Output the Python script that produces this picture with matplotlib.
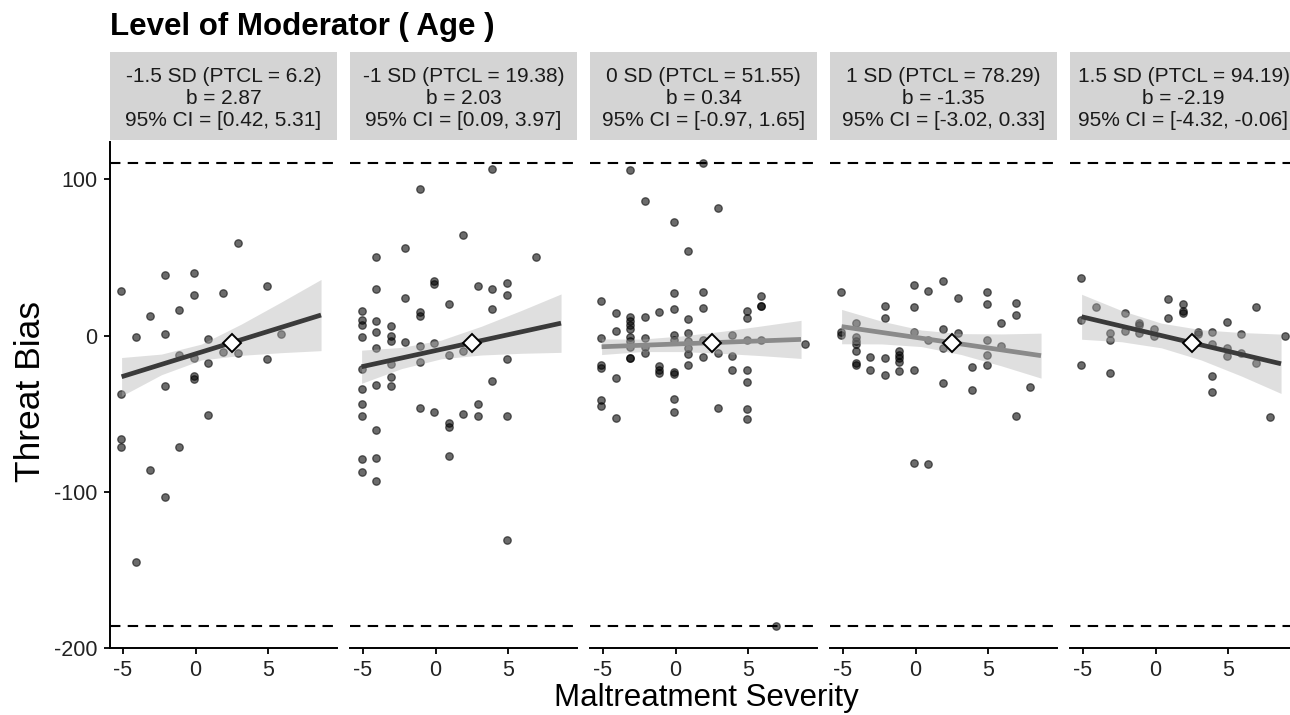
import matplotlib
matplotlib.use("Agg")
import matplotlib.pyplot as plt
import numpy as np

plt.rcParams['font.family'] = ['Liberation Sans', 'DejaVu Sans']
plt.rcParams['axes.unicode_minus'] = False

# ---------------- data ----------------
strip_labels = [
    "-1.5 SD (PTCL = 6.2)\nb = 2.87\n95% CI = [0.42, 5.31]",
    "-1 SD (PTCL = 19.38)\nb = 2.03\n95% CI = [0.09, 3.97]",
    "0 SD (PTCL = 51.55)\nb = 0.34\n95% CI = [-0.97, 1.65]",
    "1 SD (PTCL = 78.29)\nb = -1.35\n95% CI = [-3.02, 0.33]",
    "1.5 SD (PTCL = 94.19)\nb = -2.19\n95% CI = [-4.32, -0.06]",
]

p1_x = [-5.13, -5.13, -5.13, -5.13, -4.14, -4.14, -3.14, -3.14, -2.14, -2.14, -2.14, -2.14,
        -1.14, -1.14, -1.14, -0.11, -0.11, -0.11, -0.11, -0.11, 0.89, 0.89, 0.89,
        1.91, 1.91, 2.91, 2.91, 4.91, 4.91, 5.91]
p1_y = [28.6, -37.4, -66.2, -71.2, -1.0, -144.7, 12.6, -86.3, 38.9, 1.3, -32.5, -103.0,
        16.2, -12.2, -71.2, 40.0, 26.3, -14.5, -26.0, -27.8, -2.1, -17.5, -50.9,
        27.3, -10.7, 59.4, -11.3, 32.0, -15.2, 0.8]

p2_x = [3.9, -1.1, 1.9, -2.1, -4.1, 6.9, -0.1, -0.1, -4.1, 2.9, 3.9, 4.9, 4.9, -2.1, 0.9, 3.9,
        -5.1, -1.1, -1.1, -5.1, -5.1, -4.1, -3.1, -4.1, -5.1, -3.1, -3.1, -2.1, -1.1, -0.1,
        -4.1, 0.9, 1.9, -3.1, -1.1, 4.9, -5.1, -3.1, -4.1, -3.1, -5.1, 3.9, -5.1, -1.1,
        -0.1, 1.9, 2.9, 2.9, 4.9, -5.1, 0.9, 0.9, -4.1, -5.1, -4.1, 0.9, -5.1, -4.1, 4.9]
p2_y = [106.4, 93.6, 64.5, 56.0, 50.6, 50.2, 34.8, 33.1, 29.9, 31.8, 30.1, 34.0, 25.9, 24.4, 20.3, 17.1,
        15.6, 15.0, 12.8, 10.3, 7.0, 9.6, 6.4, 2.1, -0.9, -0.4, -3.2, -4.3, -6.4, -4.9,
        -7.7, -12.2, -9.6, -17.9, -17.1, -15.0, -21.6, -26.3, -31.4, -32.0, -34.2, -29.3, -44.0, -46.6,
        -48.7, -50.0, -43.6, -51.7, -51.5, -51.3, -56.0, -58.8, -60.5, -79.0, -78.4, -77.0, -87.2, -93.2, -130.8]

p3_x = [-3.14, 1.91, -2.14, 2.91, -0.11, 0.89, -5.13, -0.11, 1.91, 5.91, 5.91, 5.91,
        -4.14, -1.14, -2.14, -0.11, 1.91, 4.91, 4.91, 0.89, -3.14, -3.14, -3.14, -3.14,
        -4.14, -5.13, -3.14, -3.14, -2.14, -2.14, -2.14, -0.11, -0.11, 0.89, 0.89, 0.89, 0.89,
        1.91, 3.91, 4.91, 5.91, -3.14, -3.14, -3.14, 2.91, 3.91, 1.91, -5.13, -5.13,
        -1.14, -1.14, -1.14, -0.11, -0.11, 0.89, 3.91, 4.91, -4.14, 4.91,
        -5.13, -5.13, -0.11, -0.11, 2.91, 4.91, 4.91, -4.14, 8.9, 6.9]
p3_y = [106.0, 110.3, 86.2, 81.9, 72.9, 54.1, 22.3, 27.0, 27.9, 25.7, 19.1, 19.1,
        14.6, 15.1, 11.9, 17.0, 17.6, 16.1, 11.0, 10.6, 12.0, 9.5, 6.7, 4.0,
        2.7, -1.2, -0.7, -3.3, -1.8, -7.2, -11.4, 0.3, -2.9, 1.8, -3.3, -7.6, -11.9,
        -2.9, 0.5, -3.0, -2.5, -7.2, -14.0, -14.0, -11.0, -13.1, -13.6, -19.1, -20.4,
        -19.5, -21.7, -23.8, -23.2, -24.3, -19.1, -21.7, -22.1, -27.4, -29.6,
        -40.9, -45.1, -40.7, -48.8, -46.2, -46.9, -53.5, -52.9, -5.2, -186.0]

p4_x = [-5.13, -0.11, 1.91, 0.89, 2.91, 4.91, 4.91, 6.9, 6.9, -2.14, -0.11, -2.14, 5.91,
        -4.14, -5.13, -5.13, -4.14, -4.14, -4.14, -4.14, -4.14, -4.14, -3.14, -3.14,
        -2.14, -2.14, -1.14, -1.14, -1.14, -1.14, -1.14, -0.11, -0.11, 0.89, 1.91, 1.91,
        1.91, 2.91, 3.91, 3.91, 4.91, 4.91, 4.91, 5.91, 7.9, 6.9, -0.11, 0.89]
p4_y = [28.1, 32.4, 34.9, 28.7, 24.4, 28.1, 20.0, 20.8, 13.1, 19.3, 18.5, 11.6, 7.8,
        8.2, 2.5, 0.3, -0.8, -3.3, -5.4, -10.1, -17.4, -18.9, -13.6, -21.7,
        -14.6, -25.5, -9.9, -12.5, -14.6, -16.8, -22.9, 2.4, -22.1, -2.9, 4.4, -8.2,
        -30.6, 1.4, -20.0, -34.5, -2.5, -12.5, -18.5, -6.7, -32.8, -51.4, -81.5, -81.9]

p5_x = [-5.13, -5.13, -5.13, -4.14, -3.14, -3.14, -3.14, -2.14, -2.14, -1.14, -1.14, -1.14,
        -0.11, -0.11, 0.89, 0.89, 1.91, 1.91, 1.91, 2.91, 2.91, 3.91, 3.91, 3.91, 3.91,
        4.91, 4.91, 4.91, 5.91, 5.91, 6.9, 6.9, 7.9, 8.9]
p5_y = [36.6, 9.9, -18.5, 18.5, 1.8, -2.9, -23.6, 14.8, 3.1, 8.4, 6.7, 1.4,
        4.0, -0.3, 23.4, 11.4, 20.0, 15.9, 14.2, 2.4, 1.0, 2.4, -5.4, -25.7, -36.0,
        8.8, -8.2, -13.1, 1.0, -10.8, 18.5, -17.2, -52.0, -0.1]

points_x = [p1_x, p2_x, p3_x, p4_x, p5_x]
points_y = [p1_y, p2_y, p3_y, p4_y, p5_y]

# fitted simple-slope line end points (x range shared)
line_x = [-5.1, 8.65]
line_y = [[-26.3, 13.2], [-19.9, 8.0], [-7.1, -2.4], [5.8, -12.8], [12.1, -18.0]]
line_colors = ['#3a3a3a', '#3a3a3a', '#8a8a8a', '#8a8a8a', '#3a3a3a']

# confidence ribbons read at these x positions
band_x = [-5.1, -2.35, 0.4, 3.15, 5.9, 8.65]
band_lo = [[-38.6, -25.0, -15.6, -12.6, -10.9, -9.6],
           [-30.5, -21.1, -14.8, -12.4, -11.3, -10.7],
           [-12.1, -10.2, -10.2, -11.3, -12.8, -14.6],
           [-5.2, -5.3, -7.0, -12.1, -19.3, -27.2],
           [-2.3, -3.9, -7.8, -15.6, -25.8, -37.0]]
band_hi = [[-14.0, -11.8, -5.4, 7.4, 21.5, 36.0],
           [-9.3, -7.5, -2.8, 6.0, 16.1, 26.7],
           [-2.1, -2.2, -0.2, 2.7, 6.2, 9.8],
           [16.8, 9.3, 3.6, 1.3, 1.1, 1.6],
           [26.5, 16.1, 8.0, 3.8, 2.0, 1.0]]

# mean point (diamond)
mean_x = [2.5, 2.5, 2.5, 2.5, 2.5]
mean_y = [-4.5, -4.5, -4.5, -4.5, -4.5]

cutoffs = [110.5, -186.0]
x_ticks = [-5, 0, 5]
y_ticks = [100, 0, -100, -200]

# ---------------- figure ----------------
W, H = 1290, 715
fig = plt.figure(figsize=(W / 100, H / 100), dpi=100)

ax_top, ax_bot = 142, 648
panel_w = 227
strip_top, strip_bot = 52, 140

for i in range(5):
    left = 110 + 240 * i
    ax = fig.add_axes([left / W, (H - ax_bot) / H, panel_w / W, (ax_bot - ax_top) / H])
    ax.set_xlim(-5.9, 9.75)
    ax.set_ylim(-200, 124)

    ax.plot(points_x[i], points_y[i], 'o', ms=5.4, color='black', alpha=0.58,
            mec='black', mew=0.9, zorder=2, clip_on=False)
    ax.fill_between(band_x, band_lo[i], band_hi[i], color='#b4b4b4', alpha=0.42,
                    lw=0, zorder=3)
    ax.plot(line_x, line_y[i], color=line_colors[i], lw=3.4, solid_capstyle='butt', zorder=4)
    ax.plot(mean_x[i], mean_y[i], 'D', ms=9.5, mfc='white', mec='black', mew=1.4, zorder=5)
    for c in cutoffs:
        ax.axhline(c, color='black', lw=1.5, ls=(0, (5, 3.5)), zorder=1)

    for s in ['top', 'right']:
        ax.spines[s].set_visible(False)
    ax.spines['bottom'].set_linewidth(1.4)
    ax.spines['left'].set_linewidth(1.4)
    ax.set_xticks(x_ticks)
    ax.set_yticks(y_ticks)
    ax.tick_params(axis='both', length=4, width=1.3, labelsize=15.5, colors='black',
                   labelcolor='#222222')
    ax.tick_params(axis='x', pad=5)
    ax.tick_params(axis='y', pad=5)
    if i > 0:
        ax.spines['left'].set_visible(False)
        ax.tick_params(axis='y', left=False, labelleft=False)
    ax.set_facecolor('none')

    sax = fig.add_axes([left / W, (H - strip_bot) / H, panel_w / W, (strip_bot - strip_top) / H])
    sax.set_facecolor('#d4d4d4')
    for s in sax.spines.values():
        s.set_visible(False)
    sax.set_xticks([])
    sax.set_yticks([])
    sax.text(0.5, 0.475, strip_labels[i], ha='center', va='center', fontsize=15,
             color='#1a1a1a', linespacing=1.2, transform=sax.transAxes)

fig.text(110 / W, 1 - 27 / H, "Level of Moderator ( Age )", fontsize=22.5,
         fontweight='bold', ha='left', va='center')
fig.text(31 / W, 1 - 392 / H, "Threat Bias", fontsize=25.5, rotation=90,
         ha='center', va='center')
fig.text(706 / W, 1 - 698 / H, "Maltreatment Severity", fontsize=22.5,
         ha='center', va='center')

fig.savefig("out.png", dpi=100)
